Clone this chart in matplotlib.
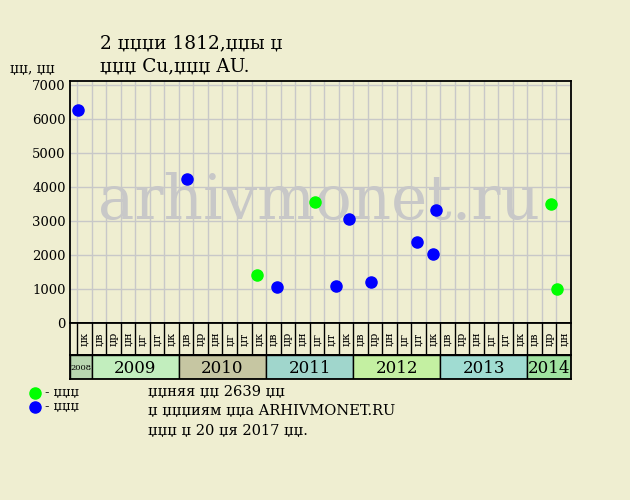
import matplotlib
matplotlib.use('Agg')
from matplotlib import pyplot as plt
from matplotlib.patches import Rectangle

plt.rcParams['font.family'] = ['DejaVu Serif']

# продажи (дата, цена)
green_dates = ['2010-11-24', '2011-07-25', '2014-04-09', '2014-05-03']
green_prices = [1400, 3550, 3490, 1000]
blue_dates = ['2008-11-03', '2010-02-06', '2011-02-17', '2011-10-20', '2011-12-12',
              '2012-03-14', '2012-09-24', '2012-12-02', '2012-12-15']
blue_prices = [6250, 4230, 1050, 1100, 3050, 1200, 2370, 2030, 3310]

years = [2008, 2009, 2010, 2011, 2012, 2013, 2014]
year_colors = ['#b8d6b0', '#c2eebe', '#c6c6a2', '#a0d6cc', '#c4f0a2', '#a0dcd2', '#a0e2a0']
month_names = ['џв', 'џр', 'џн', 'џг', 'џт', 'џк']
y_ticks = [0, 1000, 2000, 3000, 4000, 5000, 6000, 7000]

bg = '#efeed1'
x0, x1 = -3, 66   # месяцы от января 2009 (окт 2008 .. июль 2014)


def to_month(s):
    y, m, d = [int(v) for v in s.split('-')]
    return (y - 2009) * 12 + (m - 1) + (d - 1) / 30.5


fig = plt.figure(figsize=(6.3, 5), dpi=100, facecolor=bg)
L, R = 70 / 630, 571 / 630
ax = fig.add_axes([L, (500 - 323) / 500, R - L, (323 - 80.5) / 500])
ax.set_facecolor(bg)
ax.set_xlim(x0, x1)
ax.set_ylim(0, 7130)
ax.set_yticks(y_ticks)
ax.set_xticks(range(-2, x1, 2))
ax.set_xticklabels([])
ax.tick_params(length=0, labelsize=9.5, pad=3)
ax.grid(True, color='#c8c8c8', lw=1)
ax.set_axisbelow(True)
for s in ax.spines.values():
    s.set_linewidth(1.3)

# водяной знак
ax.text(0.497, 0.5, 'arhivmonet.ru', transform=ax.transAxes, ha='center', va='center',
        fontsize=44, color='#c8c8c8', zorder=0.5)

ax.scatter([to_month(d) for d in green_dates], green_prices, s=64, color='#00ff00', zorder=3)
ax.scatter([to_month(d) for d in blue_dates], blue_prices, s=64, color='#0000ff', zorder=3)

# полоса месяцев
axm = fig.add_axes([L, (500 - 355) / 500, R - L, 32 / 500])
axm.set_facecolor(bg)
axm.set_xlim(x0, x1)
axm.set_ylim(0, 1)
axm.set_xticks([])
axm.set_yticks([])
for c in range(-2, x1, 2):
    axm.axvline(c, color='black', lw=1)
    if c + 2 <= x1:
        axm.text(c + 1, 0.5, month_names[((c + 1) % 12) // 2], rotation=90,
                 ha='center', va='center', fontsize=8)
for s in axm.spines.values():
    s.set_linewidth(1.3)

# полоса годов
axy = fig.add_axes([L, (500 - 379) / 500, R - L, 24 / 500])
axy.set_xlim(x0, x1)
axy.set_ylim(0, 1)
axy.set_xticks([])
axy.set_yticks([])
for y, col in zip(years, year_colors):
    a = max((y - 2009) * 12, x0)
    b = min((y - 2009) * 12 + 12, x1)
    axy.add_patch(Rectangle((a, 0), b - a, 1, facecolor=col, edgecolor='black', lw=1))
    if y == 2008:
        axy.text((a + b) / 2, 0.45, str(y), ha='center', va='center', fontsize=6)
    else:
        axy.text((a + b) / 2, 0.45, str(y), ha='center', va='center', fontsize=12)
for s in axy.spines.values():
    s.set_linewidth(1.3)

# заголовок и подписи
fig.text(100 / 630, 1 - 43 / 500, '2 џџџи 1812,џџы џ', fontsize=13.3, va='center')
fig.text(100 / 630, 1 - 66 / 500, 'џџџ Cu,џџџ AU.', fontsize=13.3, va='center')
fig.text(10 / 630, 1 - 69 / 500, 'џџ, џџ', fontsize=9.8, va='center')

# легенда
fig.text(45 / 630, 1 - 393 / 500, '- џџџ', fontsize=9.3, va='center')
fig.text(45 / 630, 1 - 407 / 500, '- џџџ', fontsize=9.3, va='center')
lg = fig.add_axes([0, 0, 1, 1], facecolor='none')
lg.set_xlim(0, 630)
lg.set_ylim(500, 0)
lg.axis('off')
lg.scatter([35], [393], s=64, color='#00ff00')
lg.scatter([35], [407], s=64, color='#0000ff')

fig.text(148 / 630, 1 - 392 / 500, 'џџняя џџ 2639 џџ', fontsize=10.5, va='center')
fig.text(148 / 630, 1 - 411 / 500, 'џ џџџиям џџа ARHIVMONET.RU', fontsize=10.5, va='center')
fig.text(148 / 630, 1 - 431 / 500, 'џџџ џ 20 џя 2017 џџ.', fontsize=10.5, va='center')

fig.savefig('out.png', dpi=100, facecolor=bg)
